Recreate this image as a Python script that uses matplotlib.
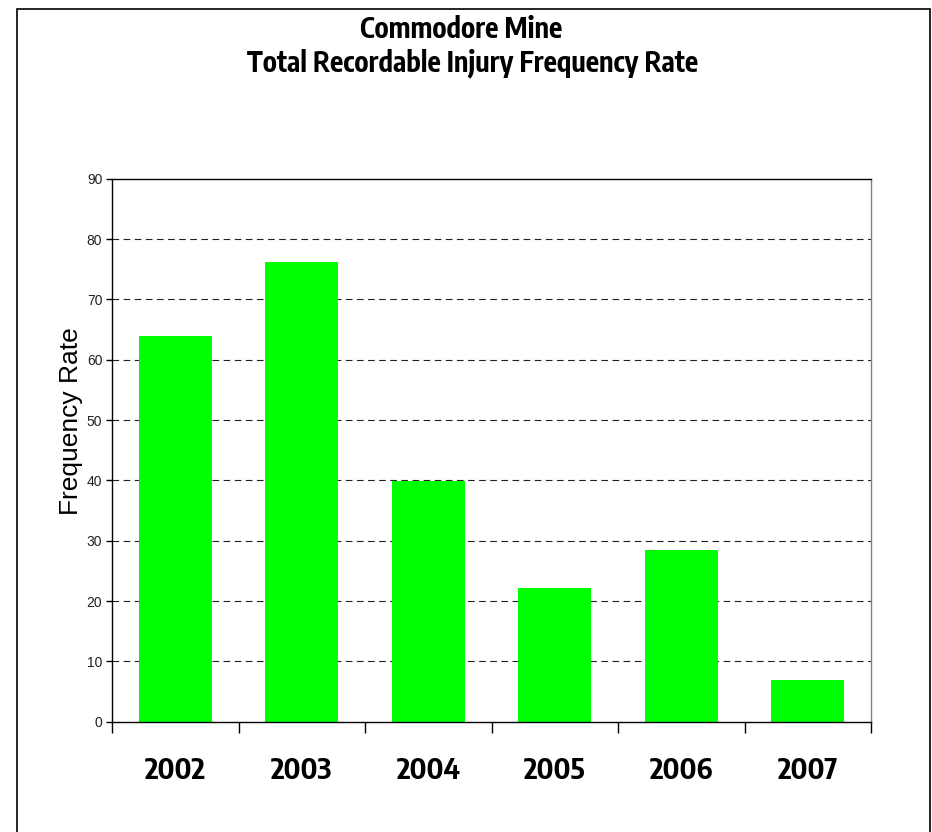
import matplotlib.pyplot as plt
from matplotlib.patches import Rectangle

# Data
years = ['2002', '2003', '2004', '2005', '2006', '2007']
rates = [64.0, 76.2, 39.9, 22.2, 28.5, 6.9]
y_ticks = [0, 10, 20, 30, 40, 50, 60, 70, 80, 90]

W, H = 932, 832
fig = plt.figure(figsize=(W / 100, H / 100), dpi=100)
narrow = ['Encode Sans Condensed', 'Liberation Sans', 'DejaVu Sans']
plain = ['Liberation Sans', 'DejaVu Sans']

# outer chart frame (bottom edge runs off the picture)
fig.patches.append(Rectangle((17 / W, -0.01), (930 - 17) / W, 1.01 - 9 / H,
                             transform=fig.transFigure, fill=False,
                             edgecolor='black', linewidth=1.2))

ax = fig.add_axes([112 / W, 1 - 721.7 / H, (871 - 112) / W, (721.7 - 178.7) / H])

x = list(range(len(years)))
ax.bar(x, rates, width=0.58, color='#00ff00', zorder=2)

ax.set_xlim(-0.5, len(years) - 0.5)
ax.set_ylim(0, 90)
ax.set_yticks(y_ticks)
ax.set_yticklabels([str(v) for v in y_ticks], family=plain, fontsize=10, color='#222222')

# year labels centred, tick marks at category boundaries
ax.set_xticks(x)
ax.set_xticklabels(years, family=narrow, fontsize=21, fontweight='bold')
ax.set_xticks([i - 0.5 for i in range(len(years) + 1)], minor=True)
ax.tick_params(axis='x', which='major', length=0, pad=25)
ax.tick_params(axis='x', which='minor', length=8, width=1, direction='out', color='black')
ax.tick_params(axis='y', length=4, width=1, direction='out', pad=3, color='black')

for v in y_ticks[1:-1]:
    ax.axhline(v, color='#222222', linewidth=0.8, dashes=(6, 4), zorder=1)

ax.spines['top'].set_color('black')
ax.spines['right'].set_color('#808080')
ax.spines['left'].set_color('black')
ax.spines['bottom'].set_color('black')
for s in ax.spines.values():
    s.set_linewidth(1.0)

ax.set_ylabel('Frequency Rate', family=plain, fontsize=19)
ax.yaxis.set_label_coords(-0.038, 0.554)

fig.text(461 / W, 1 - 30 / H, 'Commodore Mine', ha='center', va='center',
         family=narrow, fontsize=20, fontweight='bold')
fig.text(473 / W, 1 - 63 / H, 'Total Recordable Injury Frequency Rate', ha='center',
         va='center', family=narrow, fontsize=20, fontweight='bold')

fig.savefig('out.png', dpi=100)
